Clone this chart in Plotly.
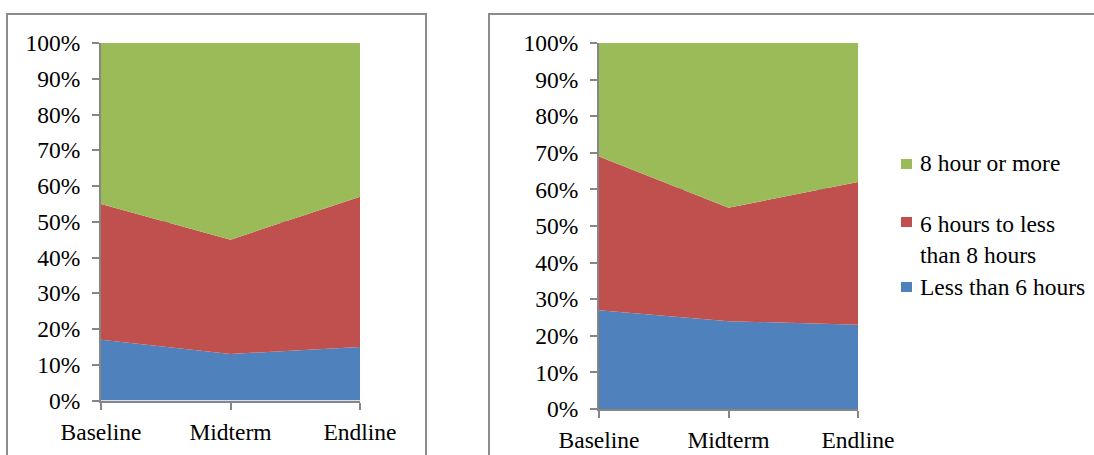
import plotly.graph_objects as go

# Survey rounds on the x axis
rounds = ["Baseline", "Midterm", "Endline"]

# Series names, bottom to top of the stack
series_names = ["Less than 6 hours", "6 hours to less than 8 hours", "8 hour or more"]
legend_labels = ["Less than 6 hours", "6 hours to less<br>than 8 hours", "8 hour or more"]
series_colors = ["#4F81BD", "#C0504D", "#9BBB59"]

# Left panel shares (%)
left_less6 = [17, 13, 15]
left_6to8 = [38, 32, 42]
left_8plus = [45, 55, 43]

# Right panel shares (%)
right_less6 = [27, 24, 23]
right_6to8 = [42, 31, 39]
right_8plus = [31, 45, 38]

y_ticks = [0, 10, 20, 30, 40, 50, 60, 70, 80, 90, 100]
y_tick_labels = [f"{v}%" for v in y_ticks]

W, H = 1094, 455
FONT = "Liberation Serif"
FS = 23.5
AXIS_GREY = "#868686"


def px_x(v):
    return v / W


def px_y(v):
    return 1 - v / H


fig = go.Figure()

panels = [
    ("x", "y", [left_less6, left_6to8, left_8plus], "L"),
    ("x2", "y2", [right_less6, right_6to8, right_8plus], "R"),
]
for xa, ya, data, tag in panels:
    for name, vals, col in zip(series_names, data, series_colors):
        fig.add_trace(go.Scatter(
            x=rounds, y=vals, name=name, mode="lines",
            stackgroup=tag, line=dict(width=0, color=col),
            fillcolor=col, xaxis=xa, yaxis=ya, showlegend=False,
            hoverinfo="x+y+name",
        ))

xaxis_common = dict(
    type="category", range=[0, 2], showgrid=False, zeroline=False,
    showline=True, linecolor=AXIS_GREY, linewidth=2,
    ticks="outside", ticklen=7, tickcolor=AXIS_GREY, tickwidth=2,
    tickfont=dict(family=FONT, size=FS, color="black"),
    ticklabelstandoff=2, automargin=False, fixedrange=True,
)
yaxis_common = dict(
    range=[0, 100], tickmode="array", tickvals=y_ticks, ticktext=y_tick_labels,
    showgrid=True, gridcolor=AXIS_GREY, gridwidth=1.5, zeroline=False,
    showline=True, linecolor=AXIS_GREY, linewidth=2,
    ticks="outside", ticklen=7, tickcolor=AXIS_GREY, tickwidth=2,
    tickfont=dict(family=FONT, size=FS, color="black"),
    ticklabelstandoff=7, automargin=False, fixedrange=True,
)

fig.update_layout(
    width=W, height=H, autosize=False,
    margin=dict(l=0, r=0, t=0, b=0, pad=0, autoexpand=False),
    paper_bgcolor="white", plot_bgcolor="white",
    font=dict(family=FONT, size=FS, color="black"),
    showlegend=False,
    xaxis=dict(xaxis_common, domain=[px_x(101), px_x(360)], anchor="y"),
    yaxis=dict(yaxis_common, domain=[px_y(400.5), px_y(43)], anchor="x"),
    xaxis2=dict(xaxis_common, domain=[px_x(599), px_x(858)], anchor="y2"),
    yaxis2=dict(yaxis_common, domain=[px_y(409), px_y(43)], anchor="x2"),
)

# Chart frames around each panel
frame = dict(color="#8C8C8C", width=2)
fig.add_shape(type="rect", xref="paper", yref="paper",
              x0=px_x(7), x1=px_x(426), y0=px_y(475), y1=px_y(14),
              line=frame, fillcolor="rgba(0,0,0,0)", layer="below")
fig.add_shape(type="rect", xref="paper", yref="paper",
              x0=px_x(489), x1=px_x(1120), y0=px_y(475), y1=px_y(14),
              line=frame, fillcolor="rgba(0,0,0,0)", layer="below")

# Legend for the right panel, listed top to bottom
legend_rows = [
    (2, 164, 163),
    (1, 222, 239),
    (0, 287, 287),
]
for idx, sq_c, txt_c in legend_rows:
    fig.add_shape(type="rect", xref="paper", yref="paper",
                  x0=px_x(901), x1=px_x(912), y0=px_y(sq_c + 5), y1=px_y(sq_c - 5),
                  line=dict(width=0), fillcolor=series_colors[idx])
    fig.add_annotation(xref="paper", yref="paper", x=px_x(918), y=px_y(txt_c),
                       text=legend_labels[idx], showarrow=False,
                       xanchor="left", yanchor="middle", align="left",
                       font=dict(family=FONT, size=FS, color="black"))

fig.write_html("out.html")
